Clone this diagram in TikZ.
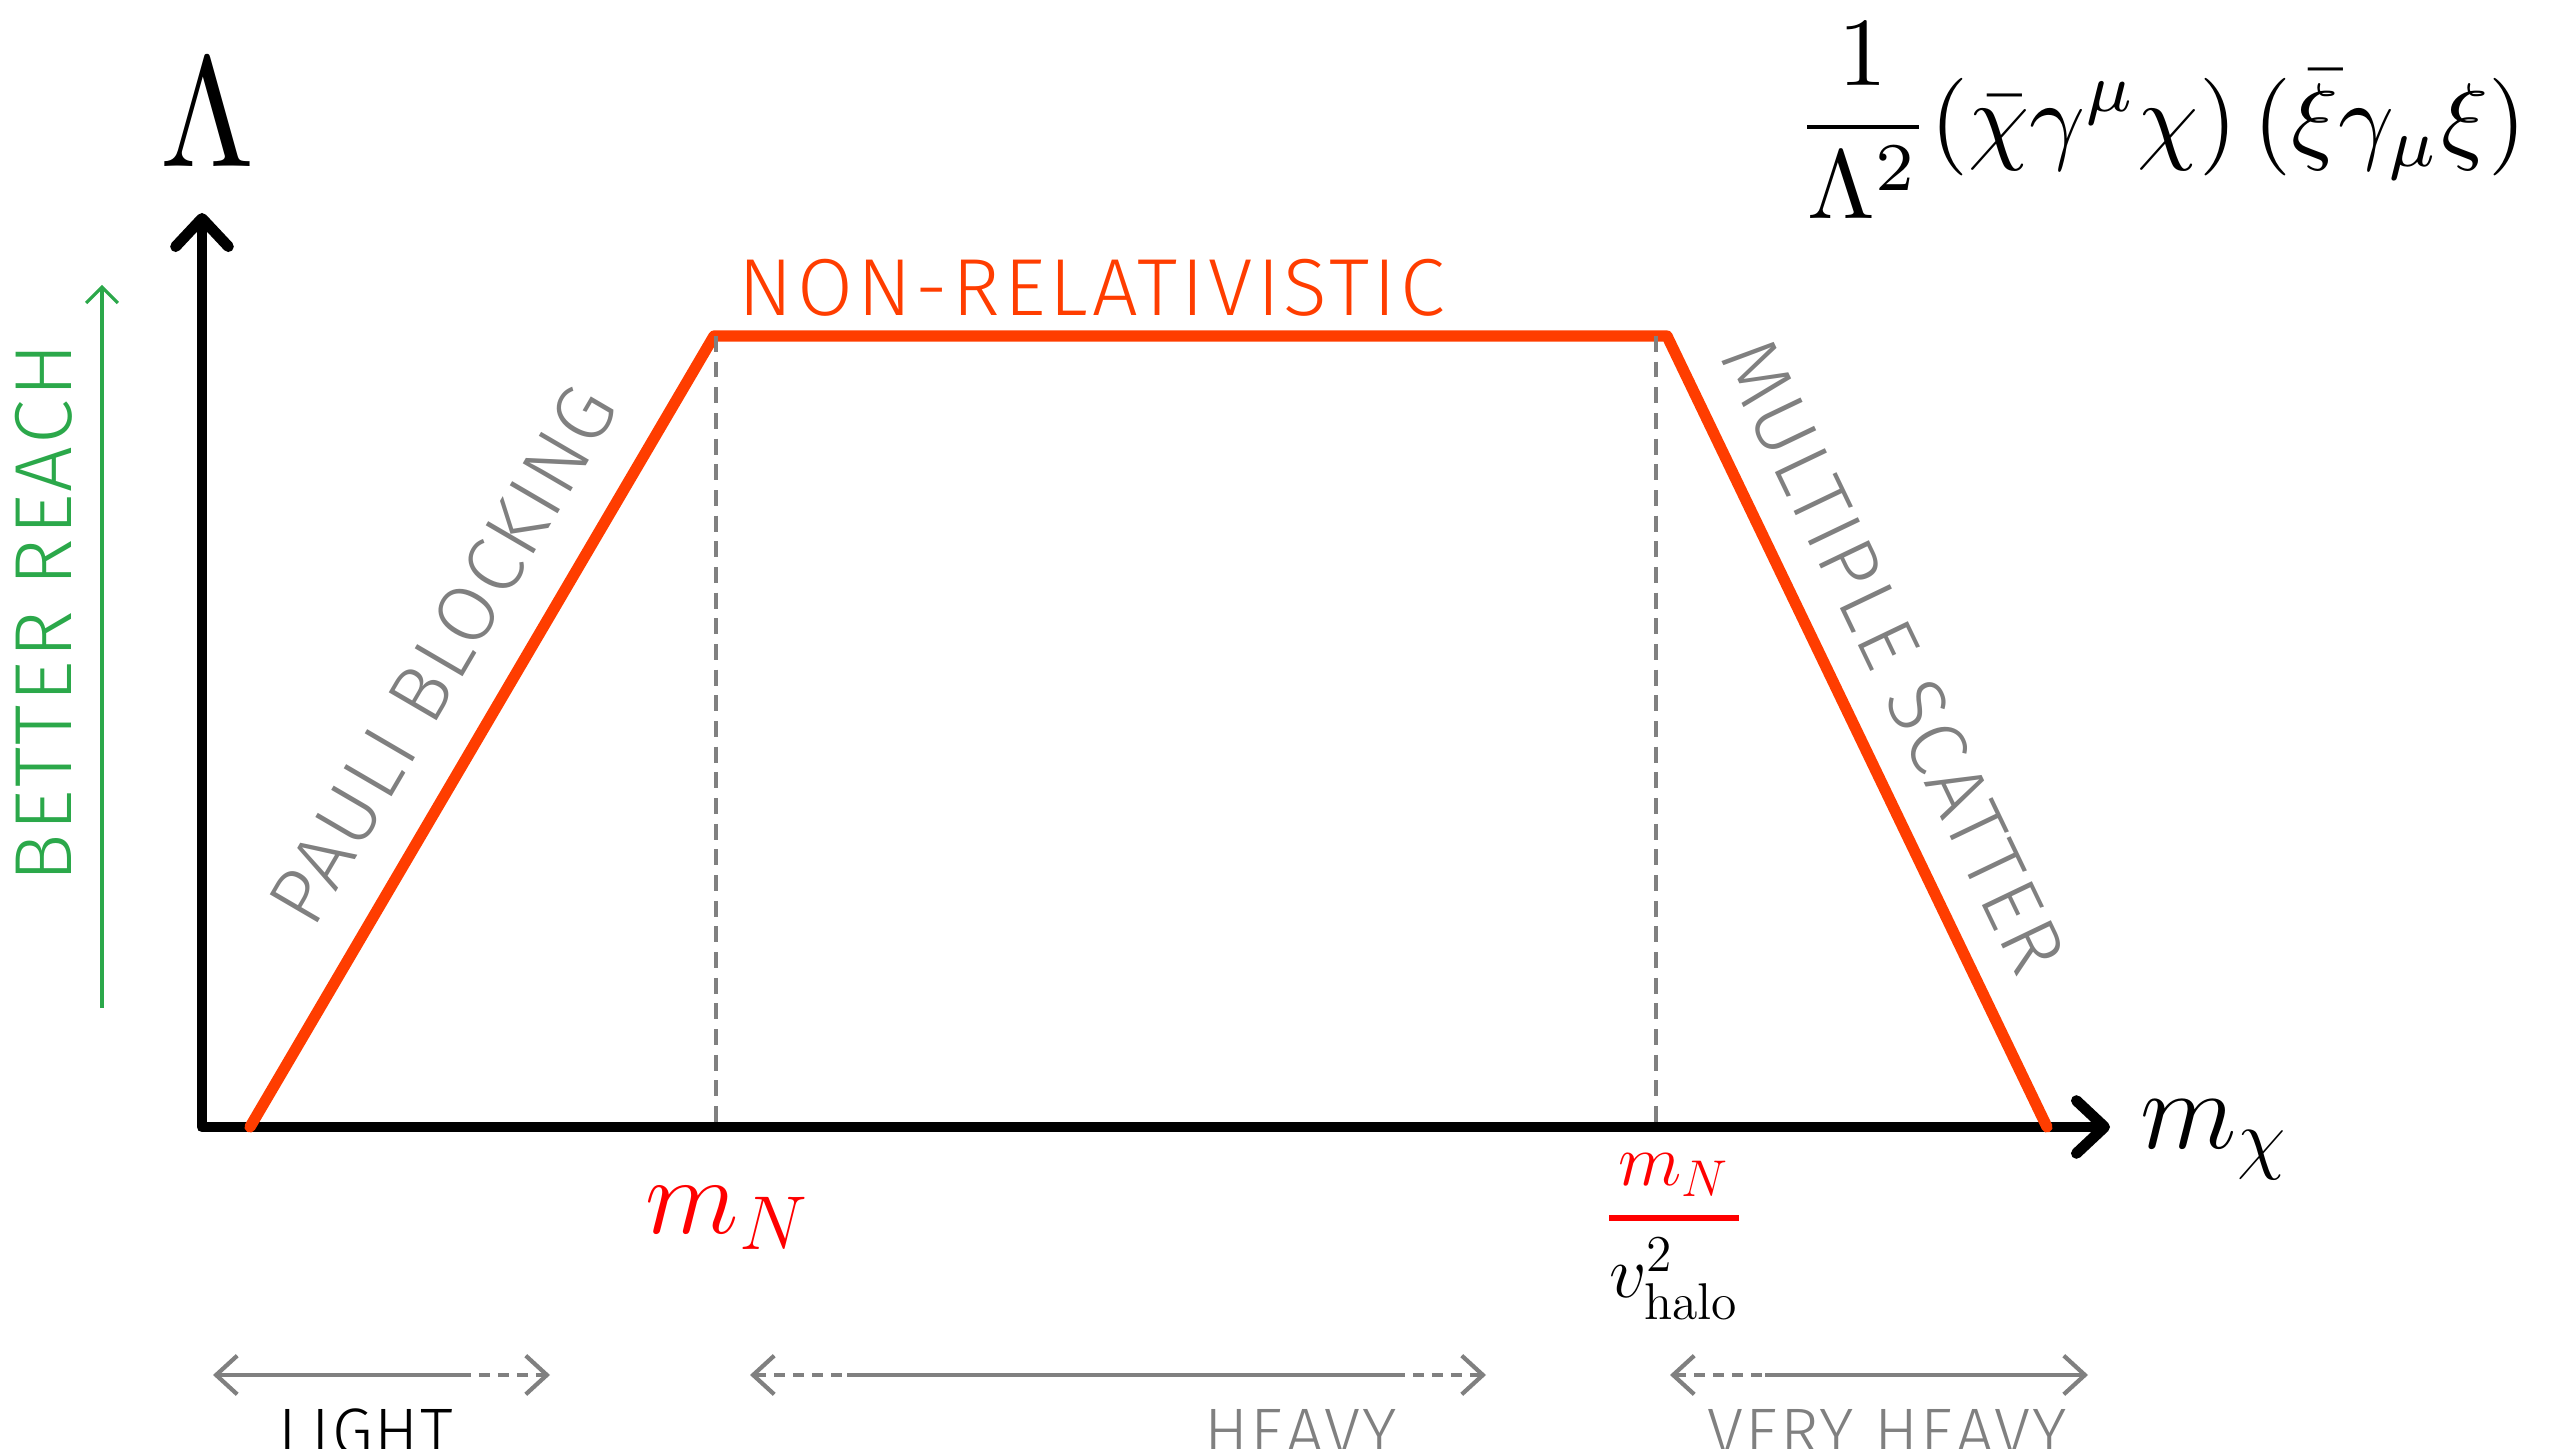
\RequirePackage{fix-cm}
\documentclass[tikz,border=0pt]{standalone}
\usepackage{amsmath}
\usepackage{fontspec}
\usepackage{graphicx}
\usetikzlibrary{
arrows.meta,
positioning
}
\newfontfamily\thinsans{Fira Sans}[UprightFont={* Light},LetterSpace=3]
\newfontfamily\widesans{Fira Sans}[UprightFont={* Light},LetterSpace=5]
\definecolor{hot}{HTML}{FF3D00}
\definecolor{massred}{HTML}{FF0000}
\definecolor{tag}{HTML}{808080}
\definecolor{reach}{HTML}{2BA84A}

\begin{document}
\begin{tikzpicture}[
x=0.01cm,y=-0.01cm,
axisline/.style={
line width=3.1pt,
line cap=round,
line join=round,
{Straight Barb[round,length=8pt,width=15pt]}-{Straight Barb[round,length=8pt,width=15pt]}
},
bound/.style={draw=hot,line width=3.2pt,line cap=round,line join=round},
guide/.style={draw=tag,line width=0.9pt,dash pattern=on 4.5pt off 2.8pt},
rangeline/.style={draw=tag,line width=1.2pt,>={Straight Barb[length=6pt,width=11pt]}},
dashes/.style={dash pattern=on 3pt off 2.4pt},
reacharrow/.style={draw=reach,line width=0.9pt,-{Straight Barb[length=4.5pt,width=9pt]}},
word/.style={font=\thinsans\fontsize{23}{27}\selectfont,inner sep=0pt},
small/.style={font=\thinsans\fontsize{18.7}{23}\selectfont,inner sep=0pt,text=tag}
]
\useasboundingbox (0,0) rectangle (2550,1449);

\coordinate (O) at (202,1127);
\coordinate (ytip) at (202,213);
\coordinate (xtip) at (2110,1127);
\draw[axisline] (ytip) -- (O) -- (xtip);

\coordinate (b1) at (250,1127);
\coordinate (b2) at (714,336);
\coordinate (b3) at (1667,336);
\coordinate (b4) at (2047,1127);
\draw[bound] (b1) -- (b2) -- (b3) -- (b4);

\coordinate (g1) at (716,336);
\coordinate (g2) at (1656,336);
\draw[guide] (g1) -- (g1 |- O);
\draw[guide] (g2) -- (g2 |- O);

\node[inner sep=0pt] (lam) at (208,113) {\resizebox{0.94cm}{1.07cm}{$\Lambda$}};
\node[anchor=base west,inner sep=0pt] (mchi) at (2140,1148) {\fontsize{32}{38}\selectfont$m_\chi$};
\node[anchor=base west,inner sep=0pt,text=massred] (mN) at (645,1233) {\fontsize{31}{37}\selectfont$m_N$};
\node[anchor=base,inner sep=0pt,text=massred] (ratio) at (1674,1236) {\fontsize{21}{25}\selectfont$\displaystyle\genfrac{}{}{1.7pt}{}{m_N}{\color{black}v^2_{\mathrm{halo}}}$};
\node[anchor=north east,inner sep=0pt] (lagr) at (2527,22) {\resizebox{7.3cm}{!}{$\displaystyle\frac{1}{\Lambda^2}(\bar\chi\gamma^\mu\chi)\,(\bar\xi\gamma_\mu\xi)$}};

\node[word,font=\widesans\fontsize{23}{27}\selectfont,text=hot] (nonrel) at (1092,288) {NON-RELATIVISTIC};
\node[word,text=tag,rotate=59.7] (pauli) at (443,655) {PAULI BLOCKING};
\node[word,text=tag,rotate=-64.4] (multi) at (1894,656) {MULTIPLE SCATTER};
\node[word,text=reach,rotate=90] (better) at (44,613) {BETTER REACH};
\coordinate (r0) at (102,1008);
\coordinate (r1) at (102,285);
\draw[reacharrow] (r0) -- (r1);

\coordinate (l0) at (213,1375);
\coordinate (l1) at (460,1375);
\coordinate (l2) at (550,1375);
\draw[rangeline,<-] (l0) -- (l1);
\draw[rangeline,dashes,->] (l1) -- (l2);

\coordinate (h0) at (750,1375);
\coordinate (h1) at (847,1375);
\coordinate (h2) at (1394,1375);
\coordinate (h3) at (1486,1375);
\draw[rangeline,dashes,<-] (h0) -- (h1);
\draw[rangeline] (h1) -- (h2);
\draw[rangeline,dashes,->] (h2) -- (h3);

\coordinate (v0) at (1670,1375);
\coordinate (v1) at (1765,1375);
\coordinate (v2) at (2088,1375);
\draw[rangeline,dashes,<-] (v0) -- (v1);
\draw[rangeline,->] (v1) -- (v2);

\node[small,text=black,anchor=base] (light) at (366,1454) {LIGHT};
\node[small,anchor=base] (heavy) at (1301,1454) {HEAVY};
\node[small,anchor=base] (vheavy) at (1887,1454) {VERY HEAVY};

\end{tikzpicture}
\end{document}
